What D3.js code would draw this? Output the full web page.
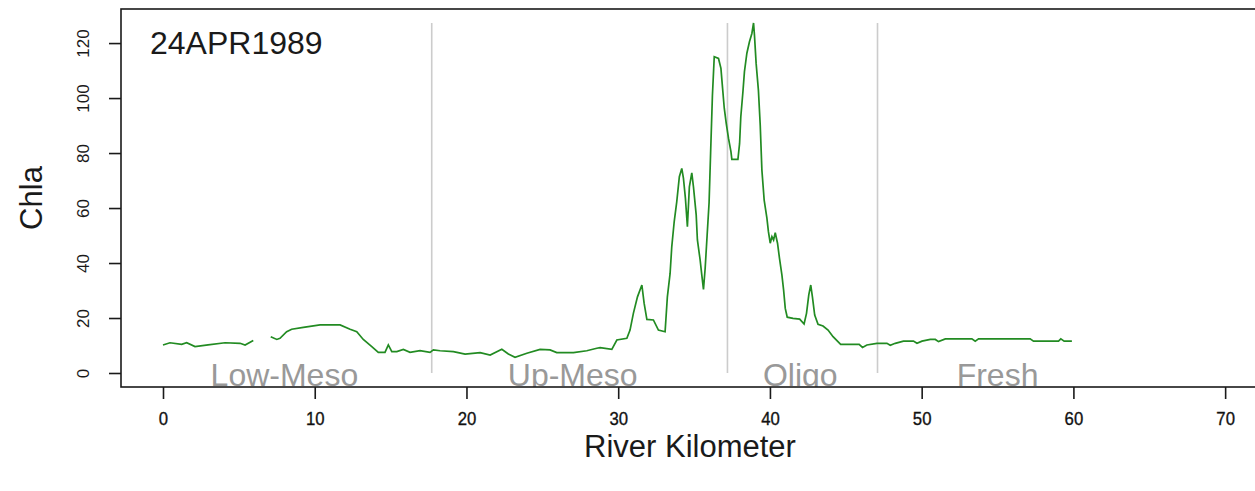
<!DOCTYPE html>
<html>
<head>
<meta charset="utf-8">
<script src="https://cdn.jsdelivr.net/npm/d3@7"></script>
<style>
  html, body { margin: 0; padding: 0; background: #fff; }
  svg { display: block; font-family: "Liberation Sans", Arial, sans-serif; }
</style>
</head>
<body>
<svg id="chart" width="1255" height="491"></svg>
<script>
// Chlorophyll a along the river, 24 April 1989 survey
const riverKm = [
  0.00, 0.46, 1.23, 1.56, 2.11, 2.97, 4.09, 5.08, 5.41, 5.95,
  6.50,
  7.10, 7.50, 7.71, 8.15, 8.48, 9.25, 10.35, 11.67, 12.33, 12.77,
  13.20, 13.76, 14.19, 14.63, 14.85, 15.08, 15.41, 15.84, 16.28, 16.94,
  17.60, 17.82, 18.26, 19.14, 19.91, 20.90, 21.56, 22.33, 22.76, 23.20,
  23.98, 24.85, 25.51, 25.95, 27.05, 27.93, 28.59, 28.81, 29.58, 29.91,
  30.57, 30.78, 31.00, 31.27, 31.56, 31.71, 31.89, 32.32, 32.65, 33.09,
  33.24, 33.42, 33.53, 33.69, 33.86, 34.03, 34.19, 34.30, 34.43, 34.56,
  34.69, 34.85, 34.96, 35.14, 35.22, 35.40, 35.51, 35.62, 35.73, 35.86,
  35.99, 36.09, 36.21, 36.33, 36.61, 36.77, 36.88, 36.99, 37.12, 37.27,
  37.43, 37.49, 37.89, 38.00, 38.08, 38.22, 38.32, 38.48, 38.65, 38.81,
  38.92, 38.98, 39.09, 39.24, 39.36, 39.47, 39.62, 39.80, 39.90, 40.02,
  40.13, 40.24, 40.35, 40.50, 40.63, 40.79, 40.90, 41.01, 41.14, 41.52,
  41.96, 42.25, 42.41, 42.56, 42.69, 42.80, 42.95, 43.17, 43.50, 43.83,
  44.16, 44.66, 45.88, 46.10, 46.39, 47.05, 47.71, 47.93, 48.26, 48.80,
  49.46, 49.69, 50.02, 50.57, 50.90, 51.11, 51.56, 53.31, 53.53, 53.75,
  57.15, 57.37, 59.02, 59.17, 59.39, 59.90
];
const chla = [
  10.2, 11.0, 10.4, 11.0, 9.6, 10.2, 11.0, 10.8, 10.2, 11.8,
  null,
  13.2, 12.2, 12.6, 15.0, 15.9, 16.6, 17.5, 17.5, 15.9, 15.0,
  12.2, 9.6, 7.5, 7.5, 10.2, 7.8, 7.8, 8.6, 7.5, 8.1,
  7.5, 8.4, 8.1, 7.8, 6.9, 7.4, 6.5, 8.6, 6.9, 5.7,
  7.2, 8.6, 8.4, 7.4, 7.4, 8.1, 9.0, 9.2, 8.6, 12.0,
  12.6, 15.6, 21.7, 27.7, 32.0, 25.3, 19.5, 19.3, 15.6, 15.0,
  27.7, 36.2, 45.9, 55.0, 62.3, 71.4, 74.4, 70.8, 63.5, 53.2,
  67.7, 72.8, 67.7, 57.5, 48.4, 41.1, 35.6, 30.4, 38.0, 50.0,
  62.0, 80.0, 101.0, 115.0, 114.4, 110.8, 103.5, 96.3, 90.8, 85.3,
  80.5, 77.7, 77.7, 83.5, 93.2, 102.3, 109.6, 116.3, 120.5, 123.5,
  127.3, 122.9, 112.6, 102.9, 90.2, 73.8, 62.9, 56.3, 51.4, 47.2,
  49.6, 48.4, 51.0, 47.2, 41.7, 35.6, 30.2, 23.5, 20.3, 19.9,
  19.6, 17.8, 21.7, 28.4, 32.0, 27.7, 21.1, 17.7, 17.1, 15.6,
  13.2, 10.4, 10.4, 9.3, 10.2, 10.8, 10.8, 10.1, 10.8, 11.6,
  11.6, 10.8, 11.6, 12.2, 12.2, 11.4, 12.4, 12.4, 11.6, 12.4,
  12.4, 11.6, 11.6, 12.4, 11.6, 11.6
];

// Salinity zone boundaries (km) and zone names with label positions (km)
const zoneBreaks = [17.71, 37.2, 47.09];
const zoneNames = ["Low-Meso", "Up-Meso", "Oligo", "Fresh"];
const zoneLabelKm = [8, 27, 42, 55];

const xTicks = [0, 10, 20, 30, 40, 50, 60, 70];
const yTicks = [0, 20, 40, 60, 80, 100, 120];
const surveyDate = "24APR1989";

const svg = d3.select("#chart");
const plot = { left: 121, right: 1258, top: 9, bottom: 387 };

// Axis limits with R-style 4% padding
const xlim = [0, 69.2];
const ylim = [0, 127.3];
const xpad = (xlim[1] - xlim[0]) * 0.04;
const ypad = (ylim[1] - ylim[0]) * 0.04;
const x = d3.scaleLinear()
  .domain([xlim[0] - xpad, xlim[1] + xpad])
  .range([plot.left, plot.left + 1134]);
const y = d3.scaleLinear()
  .domain([ylim[0] - ypad, ylim[1] + ypad])
  .range([plot.bottom, plot.top]);

svg.append("defs").append("clipPath").attr("id", "plotclip")
  .append("rect")
  .attr("x", plot.left).attr("y", plot.top)
  .attr("width", plot.right - plot.left).attr("height", plot.bottom - plot.top);

const inner = svg.append("g").attr("clip-path", "url(#plotclip)");

// zone boundaries
inner.selectAll("line.zone").data(zoneBreaks).join("line")
  .attr("class", "zone")
  .attr("x1", d => x(d)).attr("x2", d => x(d))
  .attr("y1", y(0)).attr("y2", y(ylim[1]))
  .attr("stroke", "#cccccc").attr("stroke-width", 1.6);

// zone names (clipped by the plot frame)
inner.selectAll("text.zone").data(zoneNames).join("text")
  .attr("class", "zone")
  .attr("x", (d, i) => x(zoneLabelKm[i]))
  .attr("y", y(-4.7))
  .attr("text-anchor", "middle")
  .attr("font-size", 32)
  .attr("fill", "#999999")
  .text(d => d);

// chlorophyll line
const pts = riverKm.map((k, i) => ({ k, v: chla[i] }));
const line = d3.line()
  .defined(d => d.v !== null)
  .x(d => x(d.k))
  .y(d => y(d.v));
inner.append("path")
  .datum(pts)
  .attr("d", line)
  .attr("fill", "none")
  .attr("stroke", "#228B22")
  .attr("stroke-width", 1.7)
  .attr("stroke-linejoin", "miter");

// date label
svg.append("text")
  .attr("x", 150).attr("y", 54)
  .attr("font-size", 32)
  .attr("fill", "#1a1a1a")
  .text(surveyDate);

// frame
svg.append("rect")
  .attr("x", plot.left).attr("y", plot.top)
  .attr("width", plot.right - plot.left).attr("height", plot.bottom - plot.top)
  .attr("fill", "none").attr("stroke", "#1a1a1a").attr("stroke-width", 1.6);

// x axis
const xAxis = d3.axisBottom(x).tickValues(xTicks).tickSize(12).tickPadding(13)
  .tickFormat(d3.format("d"));
const gx = svg.append("g").attr("transform", `translate(0,${plot.bottom})`).call(xAxis);
gx.select(".domain").remove();
gx.selectAll(".tick line").attr("stroke", "#1a1a1a").attr("stroke-width", 1.6);
// slightly heavy, narrowed tick labels, still centred on their ticks
gx.selectAll(".tick text")
  .attr("font-size", 19)
  .attr("fill", "#111")
  .attr("stroke", "#111")
  .attr("stroke-width", 0.35)
  .attr("textLength", function () { return this.getComputedTextLength() * 0.88; })
  .attr("lengthAdjust", "spacingAndGlyphs");

// y axis with rotated labels
const yAxis = d3.axisLeft(y).tickValues(yTicks).tickSize(12).tickFormat(d3.format("d"));
const gy = svg.append("g").attr("transform", `translate(${plot.left},0)`).call(yAxis);
gy.select(".domain").remove();
gy.selectAll(".tick line").attr("stroke", "#1a1a1a").attr("stroke-width", 1.6);
gy.selectAll(".tick text")
  .attr("font-size", 17)
  .attr("fill", "#1a1a1a")
  .attr("x", null).attr("dy", null)
  .attr("text-anchor", "middle")
  .attr("transform", "translate(-32,0) rotate(-90)");

// axis titles
svg.append("text")
  .attr("x", 690).attr("y", 457)
  .attr("text-anchor", "middle")
  .attr("font-size", 31)
  .attr("fill", "#1a1a1a")
  .text("River Kilometer");

svg.append("text")
  .attr("transform", `translate(42,${(plot.top + plot.bottom) / 2}) rotate(-90)`)
  .attr("text-anchor", "middle")
  .attr("font-size", 31)
  .attr("fill", "#1a1a1a")
  .text("Chla");
</script>
</body>
</html>
